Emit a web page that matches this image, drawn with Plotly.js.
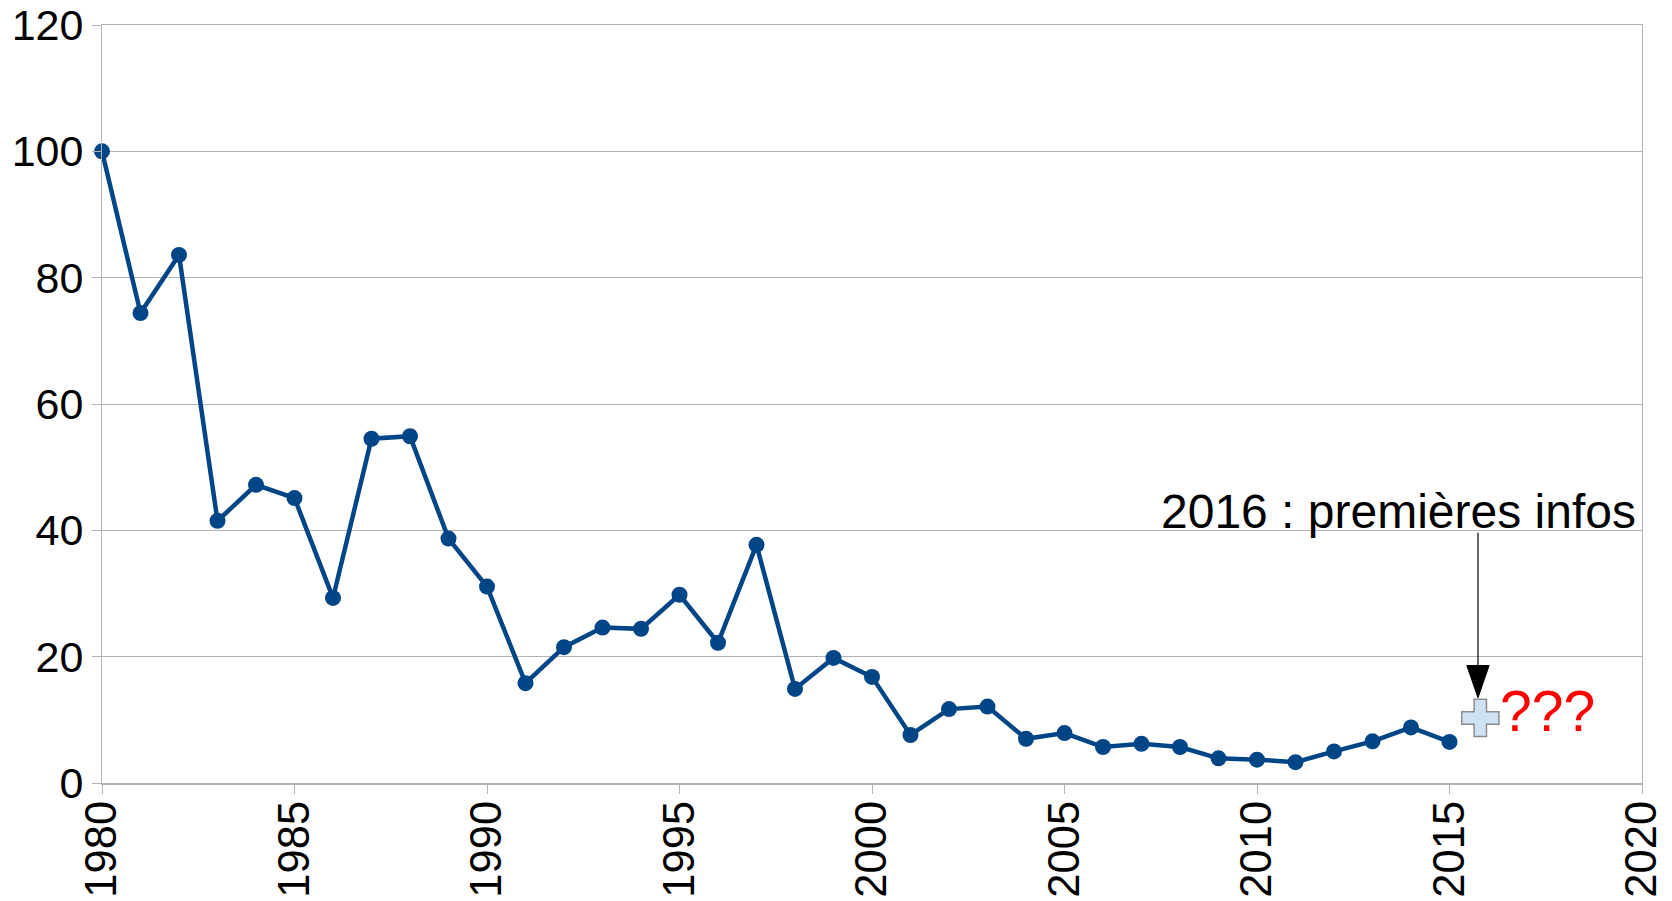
<!DOCTYPE html>
<html>
<head>
<meta charset="utf-8">
<script src="https://cdn.plot.ly/plotly-3.0.1.min.js"></script>
<style>html,body{margin:0;padding:0;background:#fff;}#chart{width:1672px;height:901px;}</style>
</head>
<body>
<div id="chart"></div>
<script>
// Data
var years = [1980,1981,1982,1983,1984,1985,1986,1987,1988,1989,1990,1991,1992,1993,1994,1995,1996,1997,1998,1999,2000,2001,2002,2003,2004,2005,2006,2007,2008,2009,2010,2011,2012,2013,2014,2015];
var values = [100,74.4,83.6,41.5,47.2,45.1,29.3,54.5,54.9,38.7,31.1,15.8,21.5,24.6,24.4,29.8,22.2,37.7,14.9,19.8,16.8,7.6,11.7,12.1,7.0,7.9,5.7,6.2,5.7,3.9,3.7,3.3,5.0,6.6,8.8,6.5];
var firstInfoYear = [2015.8];
var firstInfoValue = [10.3];
var xTicks = [1980,1985,1990,1995,2000,2005,2010,2015,2020];
var yTicks = [0,20,40,60,80,100,120];
var labelText = "2016 : premières infos";
var questionText = "???";

var gray = '#b3b3b3';
var font = 'Liberation Sans, Arial, sans-serif';

var traces = [
  {x: years, y: values, type: 'scatter', mode: 'lines+markers',
   line: {color: '#004586', width: 4.5},
   marker: {color: '#004586', size: 16},
   cliponaxis: false, hoverinfo: 'x+y'},
  {x: firstInfoYear, y: firstInfoValue, type: 'scatter', mode: 'markers',
   marker: {symbol: 'cross', size: 31, color: '#cfe2f3', line: {color: '#8c8c8c', width: 1.5}},
   cliponaxis: false}
];

// arrow geometry (annotation)
var arrowX = 2015.74, arrowTop = 39.6, headBase = 18.6, headTip = 13.5, headHalf = 0.29;

var layout = {
  width: 1672, height: 901,
  margin: {l: 102, r: 30, t: 25, b: 118},
  paper_bgcolor: '#fff', plot_bgcolor: '#fff',
  showlegend: false,
  font: {family: font, color: '#000'},
  xaxis: {range: [1980, 2020], tickmode: 'array', tickvals: xTicks, ticktext: xTicks.map(String),
    tickangle: -90, tickfont: {size: 43.5, family: font, color: '#000'}, ticklabelstandoff: -10,
    showgrid: false, zeroline: false, showline: true, linecolor: gray, linewidth: 1.5, mirror: true,
    ticks: 'outside', ticklen: 9, tickcolor: gray, tickwidth: 1},
  yaxis: {range: [0, 120], tickmode: 'array', tickvals: yTicks, ticktext: yTicks.map(String),
    tickfont: {size: 43, family: font, color: '#000'},
    showgrid: true, gridcolor: gray, gridwidth: 1, zeroline: false,
    showline: true, linecolor: gray, linewidth: 1, mirror: true,
    ticks: 'outside', ticklen: 9, tickcolor: gray, tickwidth: 1},
  shapes: [
    {type: 'line', xref: 'x', yref: 'y', x0: arrowX, x1: arrowX, y0: arrowTop, y1: headBase,
     line: {color: '#000', width: 1.2}},
    {type: 'path', xref: 'x', yref: 'y',
     path: 'M' + arrowX + ',' + headTip + ' L' + (arrowX - headHalf) + ',' + headBase + ' L' + (arrowX + headHalf) + ',' + headBase + ' Z',
     fillcolor: '#000', line: {color: '#000', width: 1}}
  ],
  annotations: [
    {x: 2019.9, y: 43.0, xref: 'x', yref: 'y', text: labelText, showarrow: false,
     xanchor: 'right', yanchor: 'middle', font: {size: 48, family: font, color: '#000'}},
    {x: 2016.26, y: 11.45, xref: 'x', yref: 'y', text: questionText, showarrow: false,
     xanchor: 'left', yanchor: 'middle', font: {size: 57, family: font, color: '#ff0000'}}
  ]
};

Plotly.newPlot('chart', traces, layout, {displayModeBar: false, staticPlot: true});
</script>
</body>
</html>
